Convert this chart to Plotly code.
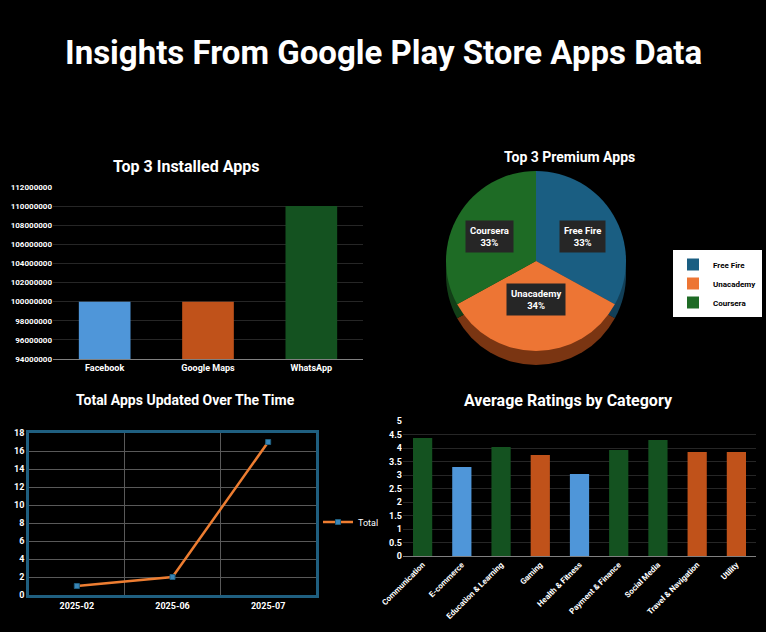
import math
import plotly.graph_objects as go

# ---------------- data ----------------
installed_apps = ["Facebook", "Google Maps", "WhatsApp"]
installed_counts = [100000000, 100000000, 110000000]

premium_apps = ["Free Fire", "Unacademy", "Coursera"]
premium_values = [33, 34, 33]

update_months = ["2025-02", "2025-06", "2025-07"]
update_totals = [1, 2, 17]

rating_categories = ["Communication", "E-commerce", "Education & Learning", "Gaming",
                     "Health & Fitness", "Payment & Finance", "Social Media",
                     "Travel & Navigation", "Utility"]
rating_values = [4.37, 3.30, 4.04, 3.74, 3.04, 3.93, 4.30, 3.85, 3.85]

# ---------------- styles ----------------
W, H = 766, 632
BLUE, ORANGE, GREEN = "#4F96D9", "#C0521A", "#145220"
installed_colors = [BLUE, ORANGE, GREEN]
rating_colors = [GREEN, BLUE, GREEN, ORANGE, BLUE, GREEN, GREEN, ORANGE, ORANGE]
pie_colors = ["#1A5E82", "#ED7534", "#1E6B25"]
pie_side_colors = ["#123F57", "#7A3512", "#123F17"]
FONT = "Roboto"


def px_x(p):
    return p / W


def px_y(p):
    return 1 - p / H


fig = go.Figure()

# Top 3 installed apps
fig.add_trace(go.Bar(x=installed_apps, y=installed_counts, marker_color=installed_colors,
                     marker_line_width=0, width=0.5, xaxis="x", yaxis="y", showlegend=False))

# Pie (depth layer + face)
pie_d = 180
pcx, pcy = 536, 261
depth = 14
fig.add_trace(go.Pie(labels=premium_apps, values=premium_values, sort=False,
                     direction="clockwise", marker=dict(colors=pie_side_colors, line_width=0),
                     textinfo="none", hoverinfo="skip", showlegend=False,
                     domain=dict(x=[px_x(pcx - pie_d / 2), px_x(pcx + pie_d / 2)],
                                 y=[px_y(pcy + depth + pie_d / 2), px_y(pcy + depth - pie_d / 2)])))
fig.add_trace(go.Pie(labels=premium_apps, values=premium_values, sort=False,
                     direction="clockwise", marker=dict(colors=pie_colors, line_width=0),
                     textinfo="none", legend="legend",
                     domain=dict(x=[px_x(pcx - pie_d / 2), px_x(pcx + pie_d / 2)],
                                 y=[px_y(pcy + pie_d / 2), px_y(pcy - pie_d / 2)])))

# Line chart
fig.add_trace(go.Scatter(x=update_months, y=update_totals, mode="lines+markers", name="Total",
                         line=dict(color="#ED7D31", width=2.5),
                         marker=dict(symbol="square", size=5, color="#3A86B8",
                                     line=dict(color="#1F5F80", width=1)),
                         xaxis="x3", yaxis="y3", legend="legend2"))

# Ratings
fig.add_trace(go.Bar(x=rating_categories, y=rating_values, marker_color=rating_colors,
                     marker_line_width=0, width=0.49, xaxis="x4", yaxis="y4",
                     showlegend=False))

tick_font = dict(family=FONT, size=9, color="white", weight="bold")
grid = "#262626"


def title_ann(text, x, y, size):
    return dict(text=text, x=px_x(x), y=px_y(y), xref="paper", yref="paper",
                xanchor="center", yanchor="middle", showarrow=False,
                font=dict(family=FONT, size=size, color="white", weight="bold"))


annotations = [
    title_ann("Insights From Google Play Store Apps Data", 383, 52, 33),
    title_ann("Top 3 Installed Apps", 186, 166, 16),
    title_ann("Top 3 Premium Apps", 569, 157, 14),
    title_ann("Total Apps Updated Over The Time", 185, 400, 14),
    title_ann("Average Ratings by Category", 568, 400, 16),
]

# pie labels with boxes, placed from slice mid-angles
total = sum(premium_values)
cum = 0
for lab, v in zip(premium_apps, premium_values):
    mid = (cum + v / 2) / total * 2 * math.pi
    cum += v
    dx = 0.6 * (pie_d / 2) * math.sin(mid)
    dy = 0.46 * (pie_d / 2) * math.cos(mid)
    annotations.append(dict(
        text=f"{lab}<br>{round(v / total * 100)}%", x=px_x(pcx + dx), y=px_y(pcy - 3 - dy),
        xref="paper", yref="paper", xanchor="center", yanchor="middle", showarrow=False,
        bgcolor="#262626", borderpad=4,
        font=dict(family=FONT, size=9.5, color="white", weight="bold")))

fig.update_layout(
    width=W, height=H, margin=dict(l=0, r=0, t=0, b=0, autoexpand=False),
    paper_bgcolor="black", plot_bgcolor="black",
    font=dict(family=FONT, color="white"),
    annotations=annotations,
    xaxis=dict(domain=[px_x(53), px_x(363)], anchor="y", tickfont=tick_font, automargin=False,
               showline=True, linecolor="#808080", linewidth=1, ticks="", type="category"),
    yaxis=dict(domain=[px_y(359), px_y(187)], anchor="x", range=[94000000, 112000000],
               dtick=2000000, tickformat="d", tickfont=dict(tick_font, size=8),
               gridcolor=grid, zeroline=False, showline=False, automargin=False),
    xaxis3=dict(domain=[px_x(29), px_x(316)], anchor="y3", tickfont=tick_font, type="category",
                tickson="boundaries", showgrid=True, gridcolor="#595959", automargin=False,
                showline=True, mirror=True, linecolor="#1F5F80", linewidth=2.5, ticks="",
                range=[-0.5, 2.5]),
    yaxis3=dict(domain=[px_y(595), px_y(433)], anchor="x3", range=[0, 18], dtick=2,
                tickfont=tick_font, gridcolor="#595959", zeroline=False, automargin=False,
                showline=True, mirror=True, linecolor="#1F5F80", linewidth=2.5),
    xaxis4=dict(domain=[px_x(403), px_x(756)], anchor="y4", tickfont=dict(family=FONT, size=8,
                color="white", weight="bold"), tickangle=-45, showline=True, type="category",
                linecolor="#808080", linewidth=1, ticks="", automargin=False),
    yaxis4=dict(domain=[px_y(556), px_y(421)], anchor="x4", range=[0, 5], dtick=0.5,
                tickfont=tick_font, gridcolor=grid, zeroline=False, automargin=False),
    legend=dict(x=px_x(762), y=px_y(250), xanchor="right", yanchor="top", bgcolor="white",
                font=dict(family=FONT, size=8, color="black", weight="bold"),
                itemwidth=30, tracegroupgap=0),
    legend2=dict(x=px_x(318), y=px_y(522), xanchor="left", yanchor="middle",
                 bgcolor="rgba(0,0,0,0)", font=dict(family=FONT, size=9, color="white"),
                 itemwidth=30),
)

fig.write_html("out.html", config={"displayModeBar": False},
               post_script="document.body.style.margin='0';")
